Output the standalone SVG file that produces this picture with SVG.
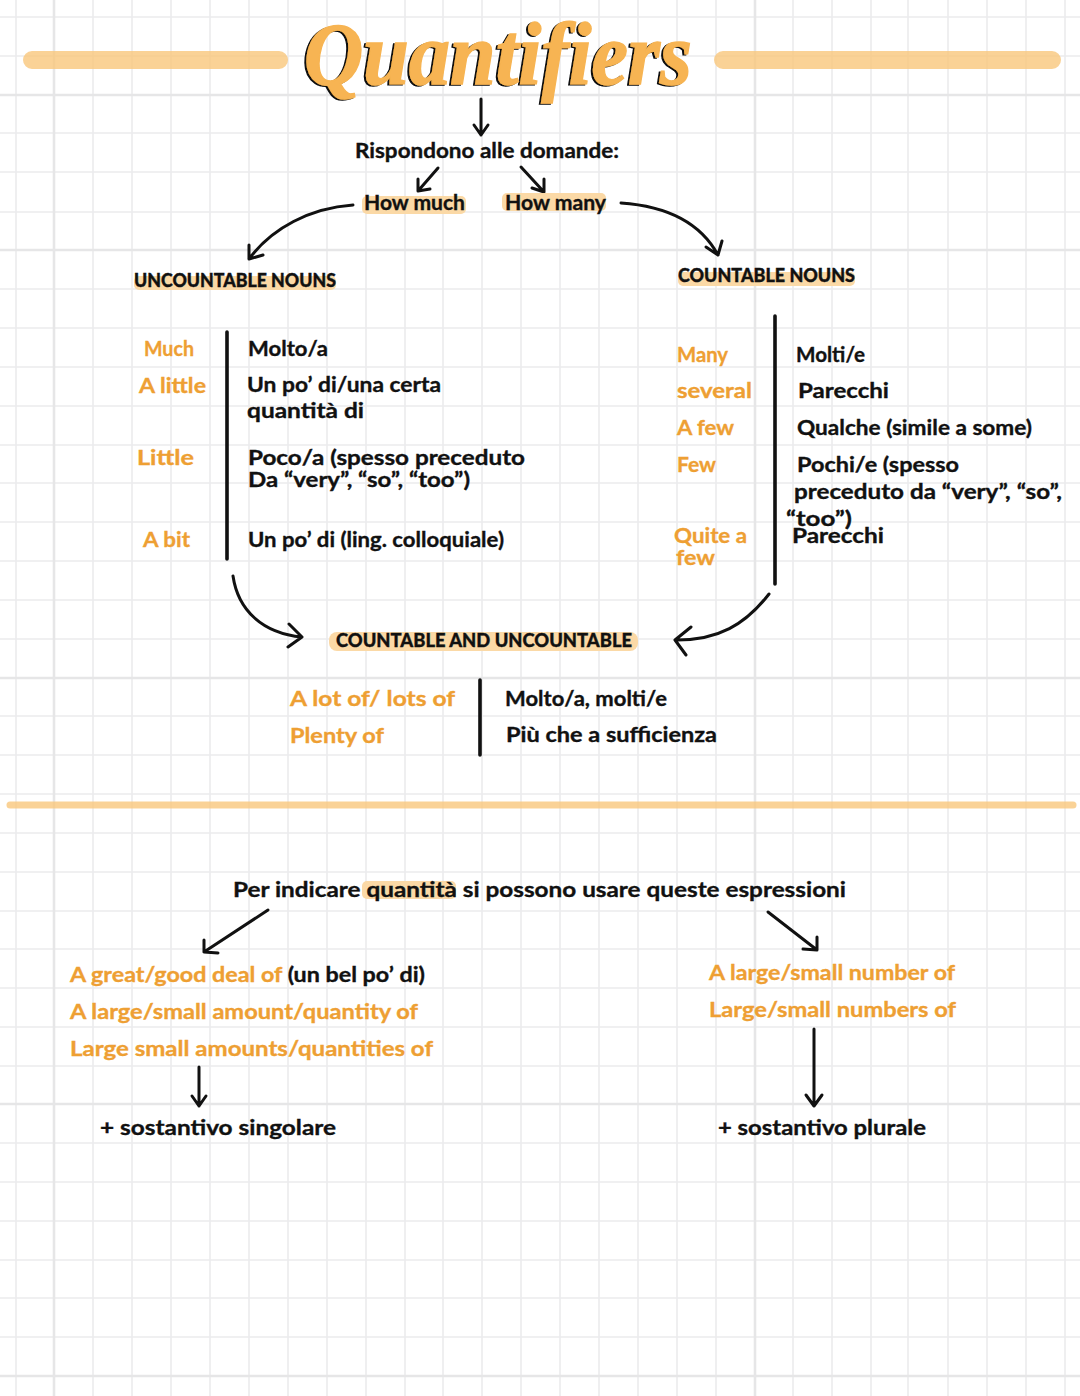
<svg xmlns="http://www.w3.org/2000/svg" width="1080" height="1396" viewBox="0 0 1080 1396">
<defs>
<style>
text{font-family:"Lato","Noto Sans",sans-serif;font-size:21px;font-weight:700;fill:#111;stroke:#111;stroke-width:.35}
.o,.o tspan{fill:#ee9f33;stroke:#ee9f33}
.caps{font-size:19px;font-weight:900}
.g{stroke:#ececed;stroke-width:1.6;fill:none}
.gt{stroke:#e6e6e7;stroke-width:2.6;fill:none}
.hl{fill:#fbd9a6}
.bar{stroke:#f9c77c;stroke-opacity:.8;stroke-linecap:round;fill:none}
.c{stroke:#111;stroke-width:3;fill:none;stroke-linecap:round;stroke-linejoin:round}
.v{stroke:#111;stroke-width:3.6;fill:none;stroke-linecap:round}
text.title{font-family:"Liberation Serif",serif;font-style:italic;font-weight:700;font-size:88px;fill:#f7b452;stroke:#f7b452;stroke-width:1.4}
</style>
<filter id="ds" x="-5%" y="-5%" width="110%" height="110%"><feDropShadow dx="-2" dy="1" stdDeviation="0" flood-color="#111"/></filter>
</defs>
<rect width="1080" height="1396" fill="#fff"/>
<g id="grid">
<path class="g" d="M16 0V1396M93 0V1396M132 0V1396M171 0V1396M210 0V1396M249 0V1396M288 0V1396M327 0V1396M366 0V1396M405 0V1396M443 0V1396M482 0V1396M521 0V1396M560 0V1396M599 0V1396M638 0V1396M677 0V1396M716 0V1396M793 0V1396M832 0V1396M871 0V1396M908 0V1396M948 0V1396M987 0V1396M1026 0V1396M1065 0V1396"/>
<path class="g" d="M0 17H1080M0 56H1080M0 133H1080M0 172H1080M0 212H1080M0 289H1080M0 328H1080M0 367H1080M0 406H1080M0 445H1080M0 483H1080M0 522H1080M0 561H1080M0 600H1080M0 639H1080M0 716H1080M0 755H1080M0 794H1080M0 833H1080M0 872H1080M0 911H1080M0 949H1080M0 988H1080M0 1027H1080M0 1066H1080M0 1143H1080M0 1182H1080M0 1221H1080M0 1260H1080M0 1298H1080M0 1337H1080"/>
<path class="gt" d="M54 0V1396M755 0V1396M0 95H1080M0 250H1080M0 678H1080M0 1104H1080M0 1376H1080"/>
</g>
<g id="decor">
<path class="bar" stroke-width="18" d="M32 60H279M723 60H1052"/>
<path class="bar" stroke-width="7" d="M10 805H1073"/>
</g>
<g id="connectors">
<path class="c" d="M481 99V135M474 125L481 135L488 125"/>
<path class="c" d="M438 168L418 191M418 179L418 191L430 189"/>
<path class="c" d="M521 167L544 192M544 179L544 192L532 188"/>
<path class="c" d="M353 205C310 208 272 228 249 259M249 245L249 259L263 255"/>
<path class="c" d="M621 203C665 206 700 222 718 255M722 241L718 255L706 247"/>
<path class="c" d="M233 576C238 610 262 633 302 637M289 624L302 637L288 647"/>
<path class="c" d="M769 594C745 625 718 640 677 640M691 627L675 640L686 655"/>
<path class="c" d="M268 910L204 952M204 940L204 952L218 953"/>
<path class="c" d="M768 912L817 950M817 937L817 950L803 949"/>
<path class="c" d="M199 1067V1106M192 1096L199 1106L206 1096"/>
<path class="c" d="M814 1029V1106M806 1095L814 1106L822 1095"/>
<path class="v" d="M227 332V559M775 316V584M480 680V755"/>
</g>
<g id="title"><text class="title" x="304" y="84" textLength="388" lengthAdjust="spacingAndGlyphs" filter="url(#ds)">Quantifiers</text></g>
<g id="domande"><text x="355" y="158" textLength="264" lengthAdjust="spacingAndGlyphs">Rispondono alle domande:</text></g>
<g id="how-much"><rect class="hl" x="362" y="196" width="104" height="18" rx="5"/><text x="364" y="210" textLength="101" lengthAdjust="spacingAndGlyphs">How much</text></g>
<g id="how-many"><rect class="hl" x="502" y="193" width="104" height="18" rx="5"/><text x="505" y="210" textLength="101" lengthAdjust="spacingAndGlyphs">How many</text></g>
<g id="uncountable"><rect class="hl" x="134" y="276" width="202" height="14" rx="5"/><text class="caps" x="134" y="287" textLength="202" lengthAdjust="spacingAndGlyphs">UNCOUNTABLE NOUNS</text></g>
<g id="countable"><rect class="hl" x="678" y="272" width="177" height="14" rx="5"/><text class="caps" x="678" y="282" textLength="177" lengthAdjust="spacingAndGlyphs">COUNTABLE NOUNS</text></g>
<g id="left-table">
<text class="o" x="144" y="356" textLength="50" lengthAdjust="spacingAndGlyphs">Much</text>
<text class="o" x="139" y="393" textLength="67" lengthAdjust="spacingAndGlyphs">A little</text>
<text class="o" x="137" y="465" textLength="57" lengthAdjust="spacingAndGlyphs">Little</text>
<text class="o" x="143" y="547" textLength="47" lengthAdjust="spacingAndGlyphs">A bit</text>
<text x="248" y="356" textLength="80" lengthAdjust="spacingAndGlyphs">Molto/a</text>
<text x="247" y="392" textLength="194" lengthAdjust="spacingAndGlyphs">Un po’ di/una certa</text>
<text x="247" y="418" textLength="117" lengthAdjust="spacingAndGlyphs">quantità di</text>
<text x="248" y="465" textLength="277" lengthAdjust="spacingAndGlyphs">Poco/a (spesso preceduto</text>
<text x="248" y="487" textLength="222" lengthAdjust="spacingAndGlyphs">Da “very”, “so”, “too”)</text>
<text x="248" y="547" textLength="256" lengthAdjust="spacingAndGlyphs">Un po’ di (ling. colloquiale)</text>
</g>
<g id="right-table">
<text class="o" x="677" y="362" textLength="51" lengthAdjust="spacingAndGlyphs">Many</text>
<text class="o" x="677" y="398" textLength="75" lengthAdjust="spacingAndGlyphs">several</text>
<text class="o" x="677" y="435" textLength="57" lengthAdjust="spacingAndGlyphs">A few</text>
<text class="o" x="677" y="472" textLength="39" lengthAdjust="spacingAndGlyphs">Few</text>
<text class="o" x="674" y="543" textLength="73" lengthAdjust="spacingAndGlyphs">Quite a</text>
<text class="o" x="676" y="565" textLength="39" lengthAdjust="spacingAndGlyphs">few</text>
<text x="796" y="362" textLength="69" lengthAdjust="spacingAndGlyphs">Molti/e</text>
<text x="798" y="398" textLength="91" lengthAdjust="spacingAndGlyphs">Parecchi</text>
<text x="797" y="435" textLength="235" lengthAdjust="spacingAndGlyphs">Qualche (simile a some)</text>
<text x="797" y="472" textLength="162" lengthAdjust="spacingAndGlyphs">Pochi/e (spesso</text>
<text x="794" y="499" textLength="268" lengthAdjust="spacingAndGlyphs">preceduto da “very”, “so”,</text>
<text x="786" y="526" textLength="66" lengthAdjust="spacingAndGlyphs">“too”)</text>
<text x="792" y="543" textLength="92" lengthAdjust="spacingAndGlyphs">Parecchi</text>
</g>
<g id="both"><rect class="hl" x="329" y="632" width="309" height="19" rx="8"/><text class="caps" x="336" y="647" textLength="296" lengthAdjust="spacingAndGlyphs">COUNTABLE AND UNCOUNTABLE</text></g>
<g id="bottom-table">
<text class="o" x="290" y="706" textLength="165" lengthAdjust="spacingAndGlyphs">A lot of/ lots of</text>
<text class="o" x="290" y="743" textLength="94" lengthAdjust="spacingAndGlyphs">Plenty of</text>
<text x="505" y="706" textLength="162" lengthAdjust="spacingAndGlyphs">Molto/a, molti/e</text>
<text x="506" y="742" textLength="211" lengthAdjust="spacingAndGlyphs">Più che a sufficienza</text>
</g>
<g id="intro"><rect class="hl" x="362" y="881" width="94" height="18" rx="5"/><text x="233" y="897" textLength="613" lengthAdjust="spacingAndGlyphs">Per indicare quantità si possono usare queste espressioni</text></g>
<g id="left-list">
<text x="70" y="982" textLength="355" lengthAdjust="spacingAndGlyphs"><tspan class="o">A great/good deal of</tspan> (un bel po’ di)</text>
<text class="o" x="70" y="1019" textLength="348" lengthAdjust="spacingAndGlyphs">A large/small amount/quantity of</text>
<text class="o" x="70" y="1056" textLength="363" lengthAdjust="spacingAndGlyphs">Large small amounts/quantities of</text>
<text x="100" y="1135" textLength="236" lengthAdjust="spacingAndGlyphs">+ sostantivo singolare</text>
</g>
<g id="right-list">
<text class="o" x="709" y="980" textLength="246" lengthAdjust="spacingAndGlyphs">A large/small number of</text>
<text class="o" x="709" y="1017" textLength="247" lengthAdjust="spacingAndGlyphs">Large/small numbers of</text>
<text x="718" y="1135" textLength="208" lengthAdjust="spacingAndGlyphs">+ sostantivo plurale</text>
</g>
</svg>
